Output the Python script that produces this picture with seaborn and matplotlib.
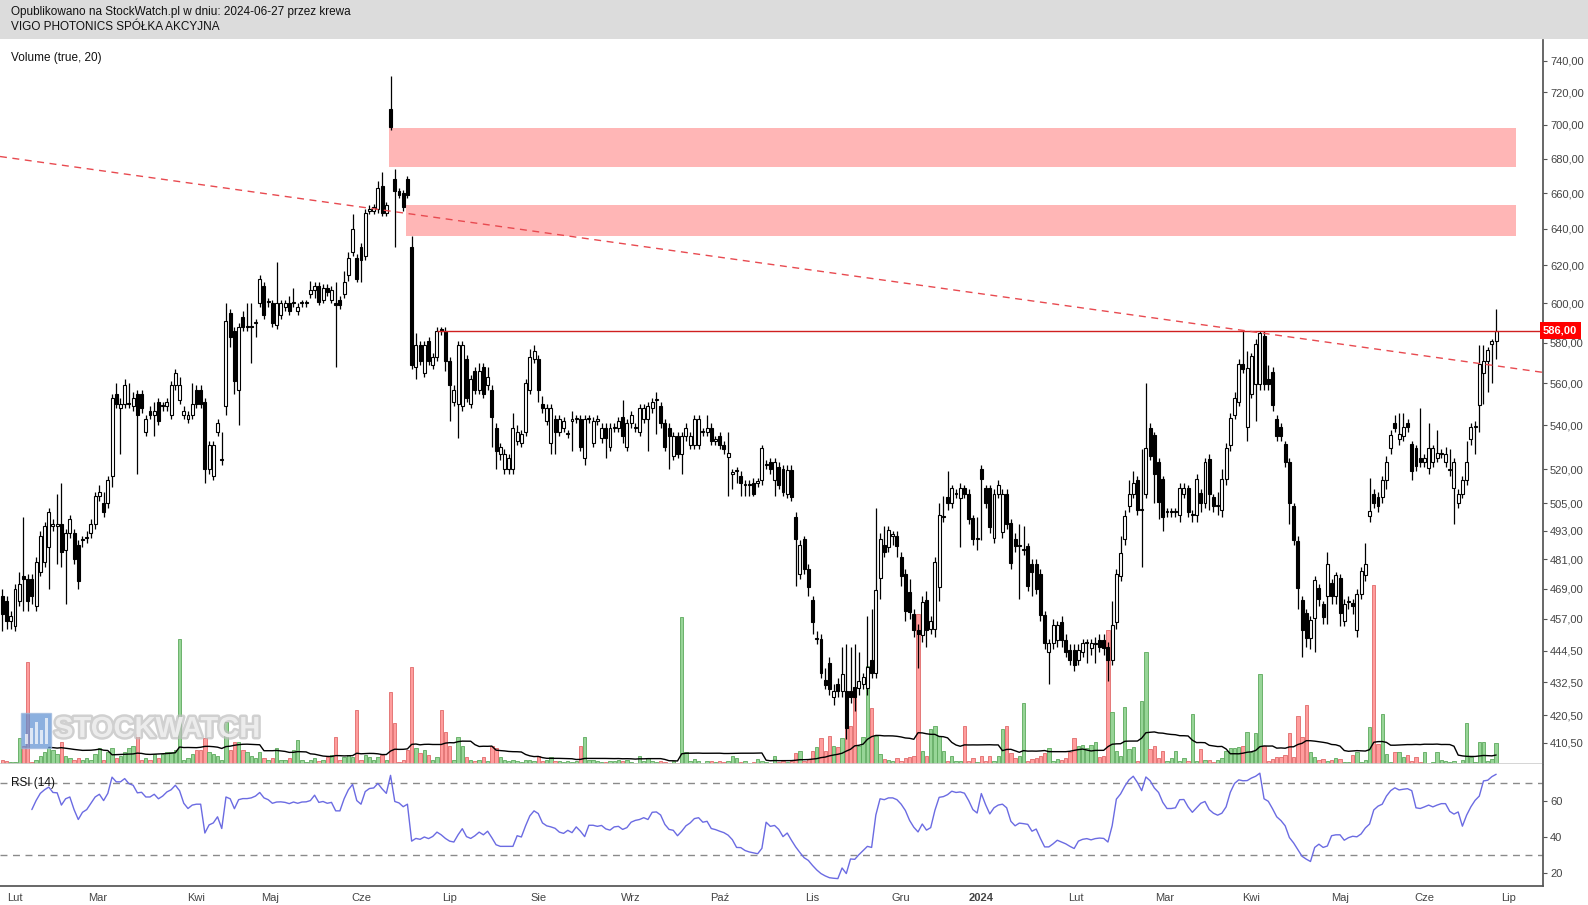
import numpy as np
import pandas as pd
import matplotlib
matplotlib.use("Agg")
import matplotlib.pyplot as plt
import matplotlib.patheffects as pe
from matplotlib.patches import Rectangle
from matplotlib.ticker import NullLocator
import seaborn as sns

# daily bars, 2023-01-27 .. 2024-06-27 (one entry per session)
opens = [
    466, 464, 456, 454, 464, 474, 473, 473, 462, 476,
    480, 486, 495, 495, 496, 485, 492, 492, 487, 489,
    490, 492, 496, 508, 505, 505, 517, 555, 548, 550,
    550, 549, 555, 555, 537, 547, 545, 551, 549, 549,
    545, 559, 552, 545, 543, 545, 557, 557, 551, 520,
    517, 537, 524, 549, 595, 586, 557, 593, 588, 588,
    590, 600, 609, 601, 600, 589, 594, 598, 600, 600,
    596, 600, 600, 605, 607, 609, 602, 608, 602, 600,
    602, 605, 615, 627, 624, 630, 625, 650, 650, 651,
    664, 649, 710, 668, 661, 660, 668, 630, 568, 579,
    565, 581, 569, 573, 587, 586, 571, 551, 550, 549,
    572, 550, 566, 557, 568, 559, 557, 539, 527, 520,
    520, 520, 533, 532, 537, 557, 572, 572, 550, 542,
    532, 543, 537, 539, 536, 542, 543, 543, 525, 543,
    532, 542, 534, 539, 530, 539, 539, 544, 530, 541,
    539, 537, 543, 543, 548, 552, 549, 541, 539, 526,
    535, 527, 535, 531, 531, 531, 537, 537, 539, 533,
    535, 531, 525.5, 518, 519, 517, 513, 513, 514, 514,
    515, 522, 523, 515, 521, 520, 509, 519.5, 499, 475,
    489.5, 477, 464.5, 449, 449, 433.5, 440, 427, 432, 429.5,
    429.5, 429.5, 431, 430.5, 432, 430.5, 441, 436, 473.5, 487,
    486, 491, 491, 482, 475, 467.5, 459, 452.5, 450.5, 464.5,
    453, 453, 469.5, 499, 507.5, 505, 509, 507, 511.5, 509,
    498.5, 489.5, 520, 511.5, 511.5, 490, 509, 492.5, 509, 496.3,
    489.5, 486.7, 485, 486.5, 479, 479, 474.8, 458.5, 444, 447.5,
    448.7, 455.8, 448.7, 444.8, 444.8, 441, 444.2, 447.4, 445.5, 447,
    448.7, 448.7, 446, 441, 455.8, 474, 489.5, 503.8, 509, 515,
    502, 509, 539, 535.5, 523.2, 515.5, 501, 501, 501, 499.8,
    509, 511.5, 499.8, 499.8, 509.5, 505, 524.6, 507.5, 503.8, 502,
    515.5, 531, 545, 551, 569.4, 539.3, 555, 559.7, 559.7, 583.3,
    562.3, 565.6, 543.2, 539.3, 531.3, 523.2, 503.6, 488.7, 464.3, 459.2,
    449.3, 457.4, 469.4, 462.8, 466.1, 471.3, 466.1, 473.5, 456.1, 463.6,
    463.2, 452.5, 467, 474.4, 499.3, 509.1, 507.7, 507.7, 515.3, 529.4,
    541.2, 533.6, 535, 541.2, 531.3, 529.4, 525.2, 523.2, 520.3, 523.2,
    525.2, 527, 523.2, 519.5, 511.4, 505, 509.1, 515.3, 533.6, 539.3,
    549.5, 564.8, 570.7, 579.5, 581,
]
highs = [
    469, 466, 460, 471, 476, 499, 475, 475, 482, 493,
    497, 503, 498, 509, 514, 494, 500, 494, 489, 491,
    493, 498, 510, 513, 510, 517, 555, 560, 553, 562,
    560, 556, 557, 557, 545, 549, 551, 553, 551, 553,
    561, 567, 563, 549, 547, 560, 559, 559, 553, 533,
    533, 543, 537, 600, 597, 588, 590, 596, 600, 600,
    592, 615, 611, 603, 602, 622, 602, 602, 604, 608,
    600, 602, 602, 612, 611, 611, 610, 610, 609, 611,
    604, 617, 627, 648, 626, 632, 651, 653, 654, 667,
    672, 655, 730, 674, 663, 662, 670, 636, 585, 581,
    581, 583, 575, 588, 588, 588, 573, 559, 581, 581,
    574, 564, 568, 570, 570, 568, 559, 541, 532, 529,
    527, 546, 540, 538, 562, 577, 579, 574, 554, 550,
    550, 545, 545, 544, 538, 547, 545, 545, 545, 545,
    544, 545, 541, 541, 541, 541, 544, 552, 543, 547,
    541, 550, 550, 551, 553, 556, 551, 543, 541, 537,
    537, 537, 541, 537, 545, 545, 539, 545, 541, 535,
    537, 533, 537, 520, 521, 519, 515, 515, 516, 516,
    531, 524, 525, 525, 523, 522, 522, 522, 501, 489,
    491, 479, 466, 452, 451, 438, 442, 432, 434, 446,
    447, 446, 447, 444, 436, 458, 461, 503, 492, 495,
    495, 493, 493, 484, 477, 473, 461, 455, 466, 468,
    458, 482, 505, 508, 519, 513, 511, 514, 513, 511,
    500, 499, 522, 513, 513, 511, 515, 511, 511, 498,
    492, 496, 495, 488, 481, 481, 477, 460, 449, 457,
    456, 458, 451, 447, 447, 447, 449, 449, 449, 450,
    451, 451, 448, 464, 477, 491, 502, 515, 519, 517,
    529, 560, 541, 537, 525, 517, 503, 503, 503, 514,
    514, 513, 502, 518, 511, 525, 527, 509, 510, 520,
    532, 546, 556, 572, 586, 576, 575, 582, 586, 586,
    569, 568, 545, 541, 533, 525, 505, 491, 466, 461,
    458, 474, 471, 464, 484, 473, 476, 475, 465, 466,
    465, 469, 478, 488, 516, 511, 510, 517, 526, 538,
    545, 546, 546, 543, 533, 531, 548, 527, 541, 531,
    538, 529, 530, 529, 525, 511, 517, 533, 541, 542,
    579, 579, 578, 582, 597,
]
lows = [
    452, 453, 453, 452, 462, 460, 460, 463, 460, 474,
    478, 469, 493, 479, 478, 463, 490, 479, 469, 486,
    488, 490, 494, 506, 499, 503, 512, 548, 527, 548,
    548, 547, 518, 546, 535, 543, 535, 540, 547, 547,
    543, 557, 550, 543, 541, 543, 548, 548, 514, 518,
    515, 535, 522, 545, 578, 555, 540, 586, 586, 570,
    583, 598, 592, 598, 588, 587, 592, 596, 594, 598,
    594, 598, 598, 603, 603, 599, 600, 604, 600, 568,
    597, 603, 612, 625, 611, 611, 623, 648, 648, 649,
    647, 647, 697, 630, 657, 650, 657, 567, 562, 569,
    563, 569, 567, 571, 584, 566, 542, 549, 534, 547,
    551, 548, 555, 555, 553, 557, 530, 520, 524, 518,
    518, 518, 531, 530, 535, 555, 570, 551, 546, 540,
    527, 527, 535, 537, 534, 528, 541, 528, 522, 541,
    530, 540, 532, 525, 528, 537, 537, 532, 528, 539,
    537, 535, 541, 528, 546, 536, 539, 528, 520, 524,
    525, 518, 533, 529, 529, 529, 535, 535, 531, 531,
    529, 527, 508, 511, 514, 508, 508, 508, 508, 512,
    513, 520, 518, 508, 511, 508, 507, 506, 470, 473,
    475, 466, 451, 447, 434, 430, 428, 424, 427, 427,
    412, 425, 422, 428, 430, 428, 434, 434, 465, 482,
    484, 487, 482, 470, 456, 457, 450, 438, 448, 446,
    451, 450, 464, 497, 502, 503, 507, 486, 507, 496,
    487, 485, 489, 503, 492, 488, 507, 490, 494, 477,
    484, 465, 483, 468, 466, 467, 456, 445, 432, 445,
    446, 446, 442, 439, 437, 439, 442, 440, 443, 440,
    444, 443, 433, 439, 453, 472, 487, 501, 507, 500,
    478, 507, 524, 505, 498, 493, 499, 499, 499, 497,
    507, 499, 497, 497, 501, 503, 502, 501, 500, 499,
    513, 528, 543, 549, 565, 533, 553, 542, 557, 557,
    557, 547, 533, 533, 521, 496, 487, 461, 442, 446,
    445, 444, 462, 455, 455, 463, 463, 454, 454, 461,
    459, 450, 465, 472, 497, 503, 501, 505, 511, 527,
    537, 531, 533, 537, 515, 519, 521, 521, 518, 521,
    523, 525, 521, 517, 496, 503, 507, 513, 531, 527,
    537, 550, 556, 560, 572,
]
closes = [
    459, 456, 458, 469, 471, 473, 464, 466, 480, 491,
    495, 501, 496, 496, 484, 492, 498, 481, 472, 489.5,
    490.5, 496, 508, 510, 501, 515, 553, 550, 550, 559,
    550.5, 553, 545, 548, 543, 545, 547, 542, 549.5, 551,
    559, 565, 559, 547, 545, 550, 550, 550, 520, 531,
    531, 541, 524.5, 591, 583, 561, 588, 588, 588.5, 588.5,
    590.5, 613, 594, 601.5, 590, 600, 600, 600, 596, 600.5,
    598, 600.5, 600.5, 607, 609, 601, 608, 606, 607, 599,
    599, 611, 624, 640, 613, 623, 649, 651, 652, 663,
    649, 653, 699, 661, 659, 652, 659, 569, 579, 571,
    579, 571, 573, 586, 586, 571, 559, 557, 579, 579,
    553, 562, 557, 566, 555, 563, 544, 528, 530, 527,
    525, 539, 537, 536, 560, 573, 576, 557, 548, 548,
    548, 537, 543, 542, 536.5, 543, 543.5, 530, 543, 543.5,
    542, 543, 539, 534, 539, 539.5, 542, 535, 541, 545,
    539.5, 548, 548, 549, 551, 552.5, 541, 530, 535, 535,
    527, 535, 539, 535, 543, 543, 537.5, 539, 533, 533.5,
    531, 529, 527.5, 518.5, 519.5, 514, 513.5, 513.5, 509, 514.5,
    529.5, 522.5, 520, 523, 513, 510, 519.5, 507.5, 489.5, 487,
    477, 469.5, 455.5, 449.5, 436, 431.5, 430, 429.5, 429.5, 435.5,
    416, 427, 427, 433, 434.5, 438.5, 436, 468.5, 489.5, 484,
    493.5, 491.5, 486.5, 474, 460, 459.5, 452.5, 451, 463.5, 452.5,
    456, 480, 500, 499.5, 505, 511.5, 509.5, 511.5, 509, 498,
    489.5, 490, 515.5, 505, 494.5, 509, 513, 509, 496, 479.5,
    486.7, 487, 485.5, 470, 476, 469, 458.5, 447.5, 447.5, 454.5,
    454.5, 448.7, 444.2, 441, 439.2, 444.8, 447.4, 447.8, 447.4, 447.4,
    446, 445.5, 441, 454.5, 475, 483.5, 499.5, 509, 513.7, 502,
    502.5, 529.5, 526, 518, 505.6, 499, 501.5, 501.5, 501.5, 511.5,
    511.5, 501, 500, 515.5, 505, 523, 509, 503.8, 504, 515.5,
    529.5, 543.3, 553, 569.4, 567.2, 567.3, 573.3, 579.3, 585, 559.7,
    559.7, 549.5, 535, 535, 523.2, 505, 489, 469.4, 452.5, 449.3,
    456.4, 472.4, 465, 457.8, 479.3, 466.1, 474.4, 459.2, 462.8, 464,
    461.9, 467, 476.2, 479.3, 501.6, 505, 503.6, 515.3, 523.2, 535.4,
    539, 535.8, 539.3, 539.3, 519.2, 521.3, 523.2, 525.2, 529.4, 529.4,
    527.1, 527.5, 527, 519.8, 523.2, 509.1, 515.3, 523.2, 539.3, 539.8,
    569.5, 571, 576.2, 580.9, 586,
]
# volume in thousand shares
volume = [
    4, 3, 2, 2, 26, 18, 102, 2, 4, 8,
    12, 16, 14, 10, 22, 8, 6, 4, 6, 4,
    6, 4, 10, 16, 4, 12, 16, 6, 8, 12,
    16, 18, 30, 4, 6, 4, 10, 6, 10, 12,
    12, 14, 125, 4, 6, 10, 14, 14, 26, 12,
    10, 8, 4, 42, 14, 22, 22, 14, 12, 8,
    6, 12, 6, 4, 6, 16, 4, 4, 6, 14,
    24, 4, 2, 4, 6, 3, 4.5, 7, 9, 27,
    4.5, 7, 9, 7, 54, 4.5, 9, 7, 4.5, 7,
    9, 4.5, 72, 41, 2, 4.5, 13.6, 97, 16, 11,
    13.6, 9, 4.5, 7, 54, 32, 18, 4.5, 27, 18,
    7, 4.5, 3, 4.5, 7, 3, 18, 16, 7, 4.5,
    3, 4.5, 3, 2, 4.5, 4.5, 3, 7.7, 3, 4.5,
    7, 3, 3, 2, 3, 2, 3, 18, 27, 4.5,
    4.5, 3, 2, 2, 3, 3, 4.5, 3, 4.5, 2.3,
    1, 8.3, 3.3, 5.7, 3.3, 1.7, 3.3, 1.7, 1, 3.3,
    1, 146.7, 12.3, 3.3, 5, 3.3, 1, 3.3, 3.3, 2.3,
    3.3, 2.3, 3.3, 8.3, 5.7, 2.3, 3.3, 1, 2.3, 5,
    3.3, 2.3, 1, 7.7, 2.3, 3.3, 2.3, 3.3, 11, 13.3,
    3.3, 5, 13.3, 16.7, 25.7, 13.3, 27.7, 18.3, 16.7, 25.7,
    46.7, 38.3, 70, 18.3, 26.7, 98.3, 55.7, 28.3, 10, 5,
    4.3, 3.3, 5.7, 3.3, 5.7, 6.7, 7.7, 150, 13.3, 8.3,
    35, 37.7, 28.3, 13.3, 3.3, 7.7, 3.3, 3.3, 37.7, 3.3,
    5.7, 2.3, 7.7, 3.3, 7.7, 3.3, 7.7, 35, 37.7, 11,
    5.7, 7.7, 61, 3.3, 5, 5.7, 7.7, 11, 15.7, 3.3,
    5, 4.3, 5.7, 11.7, 25.7, 17.7, 19, 15.7, 19, 22.3,
    6.7, 8.3, 134.3, 51.7, 13.3, 7.7, 56.7, 15, 16.7, 3.3,
    63.3, 112.3, 15, 18.3, 5.7, 13.3, 3.3, 5.7, 13.3, 3.3,
    5.7, 3.3, 50, 3.3, 15, 4.3, 4.3, 2.3, 4.3, 5.7,
    13.3, 15.7, 15.7, 16.7, 18, 32.3, 12.3, 31.3, 90, 18,
    3.3, 4.7, 7.3, 7.3, 9, 30.7, 7.3, 48, 27.3, 59,
    12.3, 7.3, 4, 4.7, 3.3, 4, 5.7, 4.7, 2.3, 2.3,
    9, 12.3, 2.3, 4, 36.7, 179, 20, 50, 10, 2.3,
    12.3, 12.3, 7.3, 9, 3.3, 7.3, 2.3, 12.3, 1.3, 2.3,
    12.3, 4, 3.3, 2.3, 3.3, 1.3, 4, 41.3, 7.3, 2.3,
    22.3, 22.3, 3.3, 4.7, 20.7,
]
# RSI(14) as plotted, first value at session 7
rsi_start = 7
rsi = [
    55, 60, 64, 66, 67.5, 64.5, 64.3, 57.5, 61, 62,
    55, 49.5, 53.5, 55, 58.5, 62, 63.5, 60, 64, 73,
    70.4, 70.4, 72.2, 69.4, 68.5, 64.3, 64.6, 62, 62, 63.5,
    61, 62.5, 64.8, 66, 68.5, 65.5, 58.5, 55.6, 57.5, 58,
    58, 42, 46.5, 47.6, 51, 44.5, 62, 61, 55.5, 60.5,
    61.1, 61.1, 61.5, 62.5, 64.5, 61.5, 60.5, 58.5, 59.2, 59.3,
    59, 58.3, 59.2, 58.5, 59.2, 59.3, 60, 63, 59, 59.5,
    58.5, 59, 54.3, 54.3, 61, 66, 69, 60, 58, 65,
    66.7, 67, 69.5, 66.5, 64, 74, 59.5, 58.7, 56.6, 58,
    37.5, 39, 38.5, 39.8, 38.9, 40.1, 42.5, 41, 39, 37.5,
    37, 41, 44.4, 40, 39, 40.5, 42.5, 41, 43, 39.4,
    35.5, 34.6, 34.6, 34.6, 34.6, 40.5, 39.8, 46, 51.5, 54.3,
    52.8, 47.6, 46, 45.4, 44.6, 42.5, 41.8, 43.5, 42.2, 45.4,
    43, 40, 46.3, 46.3, 45.7, 46.2, 44.3, 43.6, 45.4, 45.7,
    44, 45, 48, 49, 49.5, 50.5, 49.5, 53.5, 53.7, 52,
    46.8, 44, 43.5, 40.5, 43, 46, 47.6, 50, 50.5, 48,
    48.5, 44.5, 43.9, 43, 42.2, 40.8, 38.3, 34, 33.9, 32.3,
    31.5, 31, 30.5, 33.5, 48, 45.7, 46.2, 44, 40, 42,
    38, 34.3, 31.2, 28.3, 26.8, 24, 21.5, 19.5, 18.2, 17.2,
    16.9, 16.7, 22.6, 19.5, 27.6, 27.4, 30, 32.3, 34.6, 34,
    52, 61, 60.5, 61.5, 61.5, 60.5, 58, 54.5, 49, 45.2,
    42.6, 47, 43.6, 45, 54.6, 61.8, 62.2, 63.3, 65.2, 64.5,
    64.8, 64.1, 60, 55, 53.1, 63.9, 57.8, 52.6, 56, 57.5,
    58, 56, 48.5, 46, 47.5, 47.2, 46.8, 43, 44.2, 39,
    34.3, 34.3, 36, 38, 37, 36, 34.6, 33.4, 37.5, 38.5,
    38.9, 38.2, 38.9, 39.2, 39, 37, 46, 60.8, 63.7, 68,
    71.5, 73.5, 70, 65.5, 73.1, 71, 67, 64.5, 59, 55.6,
    55.6, 56, 60.5, 60.6, 56.5, 53.5, 56, 58.5, 59.5, 55,
    53, 51.9, 53, 56.5, 64.6, 69.5, 71.5, 71, 71.1, 72.5,
    73.5, 75.2, 61, 59.6, 55.5, 51, 48.9, 46, 39.5, 36.5,
    32.8, 29.1, 27.5, 26.2, 34, 35.8, 34, 34.8, 40.5, 41,
    41, 38, 39.4, 40.2, 39.9, 41.5, 44.8, 47, 54.8, 56.9,
    58, 62.5, 65.5, 67.1, 65.9, 66.3, 66.6, 65.5, 56, 55.6,
    56.5, 57.5, 56.5, 57.5, 58.3, 58.3, 54, 52.5, 53.7, 45.8,
    51.9, 56.5, 60.1, 62.5, 70.9, 71.3, 73.3, 74.6,
]

month_labels = ['Lut', 'Mar', 'Kwi', 'Maj', 'Cze', 'Lip', 'Sie', 'Wrz', 'Paź',
                'Lis', 'Gru', '2024', 'Lut', 'Mar', 'Kwi', 'Maj', 'Cze', 'Lip']
month_pos = [3, 22.5, 46, 63.5, 85, 106, 127, 149, 170,
             192, 213, 232, 254.5, 275.5, 296, 317, 337, 357]
price_ticks = [410.5, 420.5, 432.5, 444.5, 457, 469, 481, 493, 505, 520,
               540, 560, 580, 600, 620, 640, 660, 680, 700, 720, 740]
rsi_ticks = [20, 40, 60]

# drawn objects on the chart
gap_zones = [(91.7, 675, 698), (95.7, 636, 653.5)]   # start session, low, high
zone_end = 358.7
resistance = 586
resistance_from = 103
trend_a = (0, 681)
trend_b = (298, 585)

n = len(closes)
assert len(opens) == n and len(highs) == n and len(lows) == n and len(volume) == n
assert len(rsi) == n - rsi_start

df = pd.DataFrame({'open': opens, 'high': highs, 'low': lows, 'close': closes, 'volume': volume})
df['idx'] = np.arange(n)
df['up'] = df['close'] >= df['open']
df['vol_ma'] = df['volume'].rolling(20, min_periods=12).mean()
rsi_df = pd.DataFrame({'idx': np.arange(rsi_start, n), 'rsi': rsi})

sns.set_theme(style='white')
plt.rcParams['font.family'] = ['Liberation Sans', 'DejaVu Sans']

W, H = 1588, 905
fig = plt.figure(figsize=(W / 100, H / 100), dpi=100)
fig.patch.set_facecolor('white')

def fx(x):
    return x / W

def fy(y):
    return 1 - y / H

right_px = 1543
price_rect = [0, fy(764), fx(right_px), fy(40) - fy(764)]
rsi_rect = [0, fy(886), fx(right_px), fy(764) - fy(886)]
xlim = (-0.55, 365.1)

# header band
fig.add_artist(Rectangle((0, fy(39)), 1, 39 / H, transform=fig.transFigure,
                         facecolor='#dcdcdc', edgecolor='none', zorder=0))
fig.text(fx(11), fy(12.5), 'Opublikowano na StockWatch.pl w dniu: 2024-06-27 przez krewa',
         fontsize=8.5, color='#111', va='center', ha='left')
fig.text(fx(11), fy(27.5), 'VIGO PHOTONICS SPÓŁKA AKCYJNA',
         fontsize=8.5, color='#111', va='center', ha='left')

# volume (behind the price panel)
ax_vol = fig.add_axes(price_rect)
ax_vol.set_xlim(*xlim)
ax_vol.set_ylim(0, max(volume) * 4.05)
vol_face = np.where(df['up'], '#97d597', '#ff9d9d')
vol_edge = np.where(df['up'], '#5da95d', '#e06a6a')
ax_vol.bar(df['idx'], df['volume'], width=0.8, color=vol_face, edgecolor=vol_edge, linewidth=0.6)
sns.lineplot(data=df, x='idx', y='vol_ma', ax=ax_vol, color='black', linewidth=1)
ax_vol.axis('off')

# price panel
ax = fig.add_axes(price_rect)
ax.patch.set_alpha(0)
ax.set_yscale('log')
ax.set_xlim(*xlim)
ax.set_ylim(403.1, 753.3)

for start, lo, hi in gap_zones:
    ax.add_patch(Rectangle((start, lo), zone_end - start, hi - lo,
                           facecolor='#ffb6b6', edgecolor='none', zorder=1))

ax.vlines(df['idx'], df['low'], df['high'], color='black', linewidth=0.9, zorder=2)
body_low = df[['open', 'close']].min(axis=1)
body_h = (df['close'] - df['open']).abs().clip(lower=0.4)
ax.bar(df['idx'], body_h, bottom=body_low, width=0.7,
       color=np.where(df['up'], 'white', 'black'), edgecolor='black', linewidth=0.8, zorder=3)

ax.hlines(resistance, resistance_from, xlim[1], color='#d02020', linewidth=1, zorder=4)
ax.axline(trend_a, trend_b, color='#e84a50', linewidth=1, dashes=(5, 4), zorder=4)

ax.yaxis.tick_right()
ax.set_yticks(price_ticks)
ax.set_yticklabels([f'{t:.2f}'.replace('.', ',') for t in price_ticks])
ax.yaxis.set_minor_locator(NullLocator())
ax.set_xticks([])
for s in ['left', 'top']:
    ax.spines[s].set_visible(False)
ax.spines['right'].set_color('#555555')
ax.spines['bottom'].set_color('#d0d0d0')
ax.tick_params(axis='y', which='major', direction='out', length=3, width=0.8,
               color='#555555', labelcolor='#444444', labelsize=8, pad=2)
ax.text(1.0, resistance, '586,00', transform=ax.get_yaxis_transform(), ha='left', va='center',
        fontsize=8, fontweight='bold', color='white', clip_on=False, zorder=10,
        bbox=dict(boxstyle='square,pad=0.3', facecolor='#ff0000', edgecolor='none'))
fig.text(fx(11), fy(57.5), 'Volume (true, 20)', fontsize=8.5, color='#111', va='center')

# watermark
fig.add_artist(Rectangle((fx(21), fy(748)), fx(30), 35 / H, transform=fig.transFigure,
                         facecolor='#5b8fd2', edgecolor='#9ab6dc', alpha=0.7, zorder=20))
for k, bh in enumerate([10, 16, 22, 14, 26]):
    fig.add_artist(Rectangle((fx(25 + 5 * k), fy(744)), fx(3), bh / H, transform=fig.transFigure,
                             facecolor='white', edgecolor='none', alpha=0.7, zorder=21))
fig.text(fx(54), fy(729), 'STOCKWATCH', fontsize=21, fontweight='bold', color='#f0f0f0',
         va='center', ha='left', zorder=22, alpha=0.9,
         path_effects=[pe.withStroke(linewidth=3.5, foreground='#bcbcbc', alpha=0.7)])

# RSI panel
ax_rsi = fig.add_axes(rsi_rect)
ax_rsi.set_xlim(*xlim)
ax_rsi.set_ylim(12.6, 80.3)
ax_rsi.axhline(70, color='#8a8a8a', linewidth=1, dashes=(5, 4))
ax_rsi.axhline(30, color='#8a8a8a', linewidth=1, dashes=(5, 4))
sns.lineplot(data=rsi_df, x='idx', y='rsi', ax=ax_rsi, color='#6b6be2', linewidth=1)
ax_rsi.set_xlabel('')
ax_rsi.set_ylabel('')
ax_rsi.yaxis.tick_right()
ax_rsi.set_yticks(rsi_ticks)
ax_rsi.set_xticks(month_pos)
ax_rsi.set_xticklabels(month_labels)
for lbl in ax_rsi.get_xticklabels():
    if lbl.get_text() == '2024':
        lbl.set_fontweight('bold')
for s in ['left', 'top']:
    ax_rsi.spines[s].set_visible(False)
for s in ['right', 'bottom']:
    ax_rsi.spines[s].set_color('#555555')
ax_rsi.tick_params(axis='both', direction='out', length=3, width=0.8,
                   color='#555555', labelcolor='#444444', labelsize=8, pad=2)
ax_rsi.text(fx(11) / fx(right_px), 70, 'RSI (14)', transform=ax_rsi.get_yaxis_transform(),
            fontsize=8.5, color='#111', va='center', ha='left')

fig.savefig('out.png', dpi=100)
